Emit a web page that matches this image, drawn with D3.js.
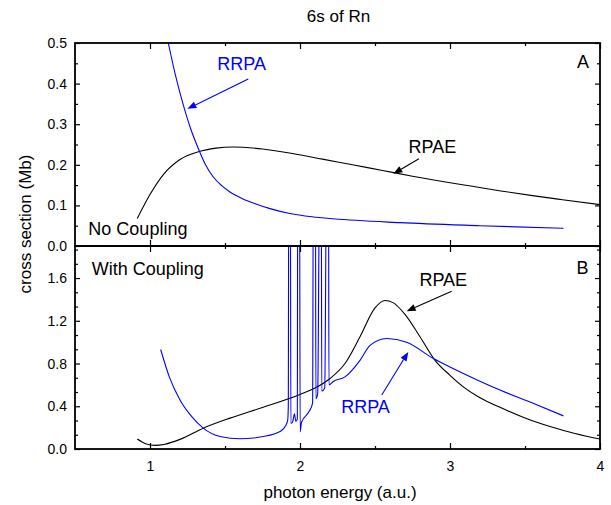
<!DOCTYPE html>
<html>
<head>
<meta charset="utf-8">
<script src="https://cdn.jsdelivr.net/npm/d3@7"></script>
<style>
    body { margin: 0; background: #fff; }
    svg { font-family: "Liberation Sans", Arial, sans-serif; }
    .frame { fill: none; stroke: #000; stroke-width: 1.8; }
    .tick line { stroke: #000; stroke-width: 1.2; }
    .domain { display: none; }
    .curve { fill: none; stroke-width: 1.1; }
</style>
</head>
<body>
<div id="chart"></div>
<script>
// Panel A: no coupling
var topRpaeE = [0.915, 1.0, 1.089, 1.2, 1.322, 1.44, 1.55, 1.75, 1.95, 2.15, 2.35, 2.55, 2.75, 2.95, 3.15, 3.35, 3.55, 3.75, 4.0];
var topRpaeY = [0.068, 0.127, 0.176, 0.213, 0.232, 0.241, 0.244, 0.239, 0.228, 0.214, 0.200, 0.186, 0.172, 0.159, 0.147, 0.135, 0.124, 0.114, 0.102];
var topRrpaE = [1.122, 1.17, 1.22, 1.27, 1.322, 1.37, 1.422, 1.48, 1.533, 1.62, 1.711, 1.8, 1.933, 2.08, 2.222, 2.667, 3.2, 3.756];
var topRrpaY = [0.5, 0.42, 0.35, 0.29, 0.240, 0.200, 0.170, 0.148, 0.133, 0.116, 0.103, 0.092, 0.080, 0.072, 0.067, 0.0575, 0.05, 0.0435];

// Panel B: with coupling (RRPA has autoionizing resonances near 2 a.u.)
var botRpaeE = [0.915, 0.97, 1.033, 1.1, 1.2, 1.355, 1.533, 1.755, 2.0, 2.1, 2.2, 2.3, 2.4, 2.5, 2.567, 2.62, 2.7, 2.8, 2.9, 3.0, 3.1, 3.2, 3.333, 3.5, 3.667, 3.833, 4.0];
var botRpaeY = [0.093, 0.05, 0.034, 0.045, 0.09, 0.195, 0.289, 0.391, 0.51, 0.57, 0.66, 0.8, 1.05, 1.32, 1.39, 1.37, 1.26, 1.05, 0.83, 0.69, 0.57, 0.48, 0.39, 0.29, 0.21, 0.145, 0.093];
var botRrpaE = [1.071, 1.13, 1.2, 1.28, 1.355, 1.467, 1.6, 1.755, 1.867, 1.905, 1.918, 1.922, 1.925, 1.936, 1.939, 1.95, 1.963, 1.972, 1.982, 1.985, 1.997, 2.001, 2.01, 2.06, 2.084, 2.089, 2.103, 2.106, 2.118, 2.131, 2.142, 2.145, 2.165, 2.177, 2.19, 2.193, 2.22, 2.3, 2.4, 2.467, 2.578, 2.711, 2.889, 3.044, 3.333, 3.55, 3.756];
var botRrpaY = [0.931, 0.67, 0.459, 0.3, 0.195, 0.117, 0.096, 0.117, 0.164, 0.22, 0.27, 0.4, 2.6, 2.6, 0.24, 0.25, 0.33, 0.26, 0.28, 2.6, 2.6, 0.16, 0.25, 0.35, 0.43, 2.6, 2.6, 0.47, 0.52, 2.6, 2.6, 0.54, 0.57, 2.6, 2.6, 0.6, 0.63, 0.675, 0.83, 0.97, 1.034, 1.0, 0.847, 0.738, 0.552, 0.43, 0.31];

// tick values
var xMajor = [1, 2, 3, 4];
var xMinor = [1.5, 2.5, 3.5];
var topYMajor = [0, 0.1, 0.2, 0.3, 0.4, 0.5];
var topYMinor = [0.05, 0.15, 0.25, 0.35, 0.45];
var botYMajor = [0, 0.4, 0.8, 1.2, 1.6];
var botYMinor = [0.1333, 0.2667, 0.5333, 0.6667, 0.9333, 1.0667, 1.3333, 1.4667, 1.7333, 1.8667];

var svg, x, yTop, yBot;
var left = 75, right = 600, topA = 43, mid = 246, bottomB = 449;

document.addEventListener('DOMContentLoaded', function () {
    svg = d3.select('#chart').append('svg')
        .attr('width', 611)
        .attr('height', 505);

    x = d3.scaleLinear().domain([0.5, 4]).range([left, right]);
    yTop = d3.scaleLinear().domain([0, 0.5]).range([mid, topA]);
    yBot = d3.scaleLinear().domain([0, 1.9]).range([bottomB, mid]);

    drawCurves();
    drawAxes();
    drawLabels();
});

function zip(es, ys) {
    return es.map((e, i) => ({ e: e, v: ys[i] }));
}

function drawCurves() {
    var defs = svg.append('defs');
    defs.append('clipPath').attr('id', 'clipA').append('rect')
        .attr('x', left).attr('y', topA).attr('width', right - left).attr('height', mid - topA);
    defs.append('clipPath').attr('id', 'clipB').append('rect')
        .attr('x', left).attr('y', mid).attr('width', right - left).attr('height', bottomB - mid);

    var lineA = d3.line().x(d => x(d.e)).y(d => yTop(d.v)).curve(d3.curveMonotoneX);
    var lineB = d3.line().x(d => x(d.e)).y(d => yBot(d.v)).curve(d3.curveMonotoneX);

    var gA = svg.append('g').attr('clip-path', 'url(#clipA)');
    gA.append('path').attr('class', 'curve').attr('stroke', '#000').attr('d', lineA(zip(topRpaeE, topRpaeY)));
    gA.append('path').attr('class', 'curve').attr('stroke', '#0000ff').attr('d', lineA(zip(topRrpaE, topRrpaY)));

    var gB = svg.append('g').attr('clip-path', 'url(#clipB)');
    gB.append('path').attr('class', 'curve').attr('stroke', '#000').attr('d', lineB(zip(botRpaeE, botRpaeY)));
    gB.append('path').attr('class', 'curve').attr('stroke', '#0000ff').attr('d', lineB(zip(botRrpaE, botRrpaY)));
}

function addAxis(axis, tx, ty, fontSize) {
    var g = svg.append('g')
        .attr('transform', `translate(${tx},${ty})`)
        .call(axis);
    g.attr('font-size', fontSize || 14).attr('font-family', null);
    g.selectAll('text').attr('fill', '#000');
    return g;
}

function drawAxes() {
    var none = () => '';
    // panel A
    addAxis(d3.axisLeft(yTop).tickValues(topYMajor).tickSize(-5).tickPadding(8).tickFormat(d3.format('.1f')), left, 0);
    addAxis(d3.axisLeft(yTop).tickValues(topYMinor).tickSize(-3).tickFormat(none), left, 0);
    addAxis(d3.axisRight(yTop).tickValues(topYMajor).tickSize(-5).tickFormat(none), right, 0);
    addAxis(d3.axisRight(yTop).tickValues(topYMinor).tickSize(-3).tickFormat(none), right, 0);
    addAxis(d3.axisTop(x).tickValues(xMajor).tickSize(-6).tickFormat(none), 0, topA);
    addAxis(d3.axisTop(x).tickValues(xMinor).tickSize(-3).tickFormat(none), 0, topA);
    addAxis(d3.axisBottom(x).tickValues(xMajor).tickSize(-6).tickFormat(none), 0, mid);
    addAxis(d3.axisBottom(x).tickValues(xMinor).tickSize(-3).tickFormat(none), 0, mid);

    // panel B
    addAxis(d3.axisLeft(yBot).tickValues(botYMajor).tickSize(-5).tickPadding(8).tickFormat(d3.format('.1f')), left, 0);
    addAxis(d3.axisLeft(yBot).tickValues(botYMinor).tickSize(-3).tickFormat(none), left, 0);
    addAxis(d3.axisRight(yBot).tickValues(botYMajor).tickSize(-5).tickFormat(none), right, 0);
    addAxis(d3.axisRight(yBot).tickValues(botYMinor).tickSize(-3).tickFormat(none), right, 0);
    addAxis(d3.axisTop(x).tickValues(xMajor).tickSize(-6).tickFormat(none), 0, mid);
    addAxis(d3.axisTop(x).tickValues(xMinor).tickSize(-3).tickFormat(none), 0, mid);
    addAxis(d3.axisBottom(x).tickValues(xMajor).tickSize(-6).tickPadding(12).tickFormat(d3.format('d')), 0, bottomB);
    addAxis(d3.axisBottom(x).tickValues(xMinor).tickSize(-3).tickFormat(none), 0, bottomB);

    // frames
    svg.append('rect').attr('class', 'frame')
        .attr('x', left).attr('y', topA).attr('width', right - left).attr('height', mid - topA);
    svg.append('rect').attr('class', 'frame')
        .attr('x', left).attr('y', mid).attr('width', right - left).attr('height', bottomB - mid);

    svg.append('text')
        .attr('x', (left + right) / 2 + 1).attr('y', 22)
        .attr('text-anchor', 'middle').attr('font-size', 17)
        .text('6s of Rn');

    svg.append('text')
        .attr('transform', 'rotate(-90)')
        .attr('x', -224).attr('y', 31)
        .attr('text-anchor', 'middle').attr('font-size', 17)
        .text('cross section (Mb)');

    svg.append('text')
        .attr('x', 340).attr('y', 498)
        .attr('text-anchor', 'middle').attr('font-size', 17)
        .text('photon energy (a.u.)');
}

function arrow(y, x1, y1, x2, y2, color) {
    var ax = x(x1), ay = y(y1), bx = x(x2), by = y(y2);
    var ang = Math.atan2(by - ay, bx - ax);
    var len = 9, hw = 3.5;
    var baseX = bx - len * Math.cos(ang), baseY = by - len * Math.sin(ang);
    svg.append('line')
        .attr('x1', ax).attr('y1', ay).attr('x2', baseX).attr('y2', baseY)
        .attr('stroke', color).attr('stroke-width', 1.1);
    var pts = [
        [bx, by],
        [baseX + hw * Math.sin(ang), baseY - hw * Math.cos(ang)],
        [baseX - hw * Math.sin(ang), baseY + hw * Math.cos(ang)]
    ];
    svg.append('polygon').attr('points', pts.map(p => p.join(',')).join(' ')).attr('fill', color);
}

function label(y, e, v, txt, color, anchor) {
    svg.append('text')
        .attr('x', x(e)).attr('y', y(v))
        .attr('text-anchor', anchor || 'start')
        .attr('font-size', 18)
        .attr('fill', color)
        .text(txt);
}

function drawLabels() {
    // panel A
    label(yTop, 1.611, 0.433, 'RRPA', '#0000ff', 'middle');
    arrow(yTop, 1.655, 0.4115, 1.249, 0.3378, '#0000ff');
    label(yTop, 2.883, 0.2296, 'RPAE', '#000', 'middle');
    arrow(yTop, 2.793, 0.2148, 2.622, 0.178, '#000');
    label(yTop, 0.589, 0.0263, 'No Coupling', '#000');
    label(yTop, 3.887, 0.439, 'A', '#000', 'middle');

    // panel B
    label(yBot, 0.611, 1.624, 'With Coupling', '#000');
    label(yBot, 3.883, 1.64, 'B', '#000', 'middle');
    label(yBot, 2.955, 1.53, 'RPAE', '#000', 'middle');
    arrow(yBot, 3.011, 1.477, 2.711, 1.29, '#000');
    label(yBot, 2.437, 0.335, 'RRPA', '#0000ff', 'middle');
    arrow(yBot, 2.545, 0.506, 2.722, 0.909, '#0000ff');
}
</script>
</body>
</html>
